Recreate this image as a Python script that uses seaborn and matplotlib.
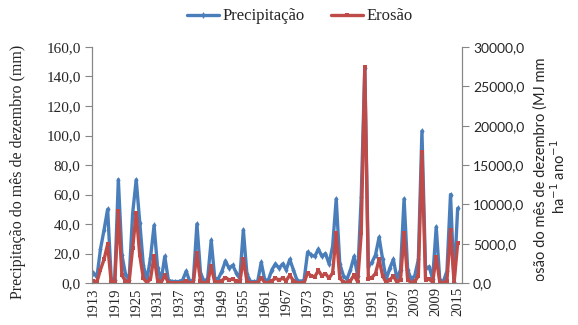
import matplotlib
matplotlib.use("Agg")
import matplotlib.pyplot as plt
import seaborn as sns
import pandas as pd
from matplotlib.transforms import Bbox
from matplotlib.ticker import FuncFormatter

# December values, 1913-2015
years = list(range(1913, 2016))

precip = [
    7, 4, 23, 36, 50, 3, 2, 70, 19, 6,          # 1913-1922
    2, 47, 70, 41, 12, 2, 17, 39, 10, 2,        # 1923-1932
    18, 2, 1, 1, 1, 2, 8, 1, 2, 40,             # 1933-1942
    7, 1, 3, 29, 3, 3, 8, 15, 10, 12,           # 1943-1952
    7, 3, 36, 6, 1, 1, 1, 14, 2, 2,             # 1953-1962
    9, 13, 10, 13, 9, 16, 9, 2, 1, 2,           # 1963-1972
    21, 19, 18, 23, 18, 20, 13, 25, 57, 13,     # 1973-1982
    5, 2.5, 9, 18, 5, 58, 146, 11, 14, 19,      # 1983-1992
    31, 16, 2.5, 10, 16, 3, 9, 57, 9, 2.5,      # 1993-2002
    5, 16, 103, 10, 11, 3, 38, 2, 1, 8,         # 2003-2012
    60, 1, 50.6,                                # 2013-2015
]

erosion = [
    300, 150, 1700, 3000, 4900, 100, 100, 9100, 1000, 250,
    80, 4400, 8900, 3500, 600, 50, 500, 3400, 300, 50,
    1000, 50, 20, 20, 30, 50, 300, 20, 50, 3800,
    200, 20, 80, 2100, 80, 80, 300, 700, 400, 500,
    250, 80, 3100, 200, 20, 20, 20, 700, 50, 50,
    300, 600, 400, 600, 300, 1000, 300, 50, 20, 50,
    1300, 900, 800, 1600, 900, 1200, 600, 1300, 6300, 600,
    150, 50, 300, 1000, 150, 6300, 27400, 500, 700, 1200,
    3000, 900, 50, 400, 900, 100, 400, 6300, 400, 50,
    200, 900, 16700, 400, 500, 100, 3350, 50, 20, 300,
    6740, 30, 5040,
]

tick_years = list(range(1913, 2016, 6))

BLUE = "#4A7EBB"
RED = "#BE4B48"
AXIS_GREY = "#868686"

sns.set_theme(style="white")
plt.rcParams["font.family"] = ["Liberation Serif", "DejaVu Serif"]

df = pd.DataFrame({"ano": years, "Precipitação": precip, "Erosão": erosion})

fig = plt.figure(figsize=(5.78, 3.25), dpi=100)
ax = fig.add_axes([0.1587, 0.1292, 0.6405, 0.7262])
ax2 = ax.twinx()

sns.lineplot(data=df, x="ano", y="Precipitação", ax=ax, color=BLUE,
             linewidth=2.4, marker="d", markersize=3.5, markeredgewidth=0,
             label="Precipitação", legend=False)
sns.lineplot(data=df, x="ano", y="Erosão", ax=ax2, color=RED,
             linewidth=2.4, marker="s", markersize=3.5, markeredgewidth=0,
             label="Erosão", legend=False)

ax.set_xlim(1912.55, 2016.2)
ax.set_ylim(0, 160)
ax2.set_ylim(0, 30000)
ax.set_yticks(range(0, 161, 20))
ax2.set_yticks(range(0, 30001, 5000))

comma = FuncFormatter(lambda v, p: f"{v:.1f}".replace(".", ","))
ax.yaxis.set_major_formatter(comma)
ax2.yaxis.set_major_formatter(comma)

ax.set_xticks(tick_years)
ax.set_xticklabels([str(y) for y in tick_years], rotation=90, fontsize=10.5)
ax.set_xlabel("")
ax.set_ylabel("Precipitação do mês de dezembro (mm)", fontsize=11.5)
ax.yaxis.set_label_coords(-0.178, 0.47)
ax2.set_ylabel("")

for a in (ax, ax2):
    for side in ("left", "right", "bottom"):
        a.spines[side].set_color(AXIS_GREY)
        a.spines[side].set_linewidth(0.8)
    a.spines["top"].set_visible(False)

ax.tick_params(axis="y", which="major", direction="out", length=5,
               width=0.8, color=AXIS_GREY, labelsize=11, pad=3, left=True)
ax.tick_params(axis="x", which="major", direction="out", length=0,
               labelsize=10.5, pad=3, bottom=True)
ax2.tick_params(axis="y", which="major", direction="out", length=5,
                width=0.8, color=AXIS_GREY, pad=3, right=True)
for lbl in ax2.get_yticklabels():
    lbl.set_fontfamily(["Lato", "DejaVu Sans"])
    lbl.set_fontsize(10)

# right axis title, cut off along the bottom edge of the chart area
rt = fig.text(0.952, 0.458,
              "Erosão do mês de dezembro (MJ mm\nha$^{-1}$ ano$^{-1}$",
              rotation=90, ha="center", va="center", multialignment="center",
              fontsize=10.5, family=["Lato", "DejaVu Sans"], linespacing=1.1)
rt.set_clip_box(Bbox([[500, 44], [578, 325]]))
rt.set_clip_on(True)

h1, l1 = ax.get_legend_handles_labels()
h2, l2 = ax2.get_legend_handles_labels()
fig.legend(h1 + h2, l1 + l2, loc="upper center", bbox_to_anchor=(0.519, 1.02),
           ncol=2, frameon=False, fontsize=12, handlelength=1.9,
           columnspacing=1.6, handletextpad=0.2)

fig.savefig("out.png", dpi=100)
